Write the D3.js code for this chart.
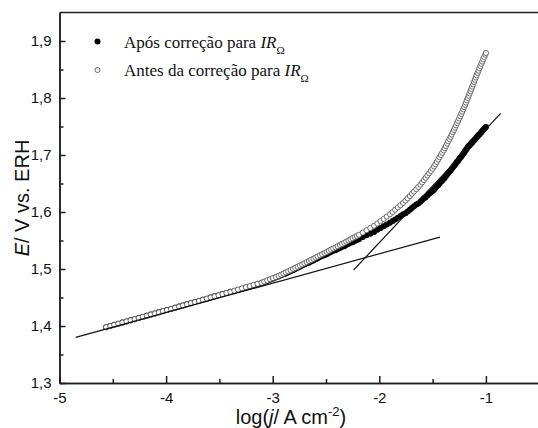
<!DOCTYPE html>
<html><head><meta charset="utf-8">
<script src="https://cdn.jsdelivr.net/npm/d3@7"></script>
<style>body{margin:0;background:#fff}svg{display:block}</style>
</head><body>
<svg id="c" width="538" height="428"></svg>
<script>
// log(j / A cm^-2), shared by both series (same current, E before/after ohmic correction)
const logJ = [
 -4.563,-4.524,-4.487,-4.448,-4.410,-4.371,-4.333,-4.295,-4.257,-4.219,
 -4.181,-4.143,-4.105,-4.068,-4.030,-3.992,-3.954,-3.916,-3.879,-3.842,
 -3.805,-3.767,-3.730,-3.692,-3.655,-3.618,-3.582,-3.545,-3.508,-3.471,
 -3.434,-3.397,-3.360,-3.325,-3.288,-3.251,-3.215,-3.179,-3.142,
 -3.105,-3.079,-3.052,-3.025,-2.999,-2.971,-2.945,-2.921,-2.899,-2.876,
 -2.854,-2.832,-2.809,-2.788,-2.766,-2.744,-2.723,-2.702,-2.681,-2.660,
 -2.640,-2.618,-2.598,-2.578,-2.556,-2.536,-2.515,-2.494,-2.473,-2.453,
 -2.432,-2.411,-2.390,-2.369,-2.350,-2.329,-2.310,-2.290,-2.270,-2.251,
 -2.230,-2.211,-2.191,
 -2.155,-2.120,-2.084,-2.049,-2.018,
 -1.989,-1.959,-1.930,-1.900,-1.875,
 -1.851,-1.826,-1.802,-1.777,-1.754,
 -1.734,-1.713,-1.694,-1.674,-1.653,
 -1.634,-1.614,-1.598,-1.581,-1.565,
 -1.549,-1.533,-1.516,-1.500,-1.486,
 -1.474,-1.461,-1.448,-1.435,-1.422,
 -1.410,-1.396,-1.386,-1.375,-1.364,
 -1.354,-1.342,-1.331,-1.321,-1.310,
 -1.299,-1.290,-1.280,-1.270,-1.260,
 -1.251,-1.241,-1.231,-1.222,-1.213,
 -1.204,-1.195,-1.187,-1.179,-1.170,
 -1.161,-1.153,-1.144,-1.136,-1.128,
 -1.120,-1.111,-1.103,-1.095,-1.087,
 -1.078,-1.069,-1.061,-1.052,-1.043,
 -1.034,-1.026,-1.016,-1.006,
 -1.000
];
// "Antes da correção para IRΩ" (open circles)
const eBefore = [
 1.398,1.400,1.402,1.404,1.406,1.408,1.410,1.412,1.414,1.416,
 1.418,1.420,1.422,1.424,1.426,1.428,1.430,1.432,1.434,1.436,
 1.438,1.440,1.442,1.444,1.446,1.448,1.450,1.452,1.454,1.456,
 1.458,1.460,1.462,1.464,1.466,1.468,1.470,1.472,1.474,
 1.476,1.478,1.480,1.482,1.484,1.486,1.488,1.490,1.492,1.494,
 1.496,1.498,1.500,1.502,1.504,1.506,1.508,1.510,1.512,1.514,
 1.516,1.518,1.520,1.522,1.524,1.526,1.528,1.530,1.532,1.534,
 1.536,1.538,1.540,1.542,1.544,1.546,1.548,1.550,1.552,1.554,
 1.556,1.558,1.560,
 1.564,1.568,1.572,1.576,1.580,
 1.584,1.588,1.592,1.596,1.600,
 1.604,1.608,1.612,1.616,1.620,
 1.624,1.628,1.632,1.636,1.640,
 1.644,1.648,1.652,1.656,1.660,
 1.664,1.668,1.672,1.676,1.680,
 1.684,1.688,1.692,1.696,1.700,
 1.704,1.708,1.712,1.716,1.720,
 1.724,1.728,1.732,1.736,1.740,
 1.744,1.748,1.752,1.756,1.760,
 1.764,1.768,1.772,1.776,1.780,
 1.784,1.788,1.792,1.796,1.800,
 1.804,1.808,1.812,1.816,1.820,
 1.824,1.828,1.832,1.836,1.840,
 1.844,1.848,1.852,1.856,1.860,
 1.864,1.868,1.872,1.876,
 1.879
];
// "Após correção para IRΩ" (filled dots)
const eAfter = [
 1.398,1.400,1.402,1.404,1.406,1.408,1.410,1.412,1.414,1.416,
 1.418,1.420,1.422,1.424,1.426,1.428,1.430,1.432,1.434,1.436,
 1.438,1.440,1.442,1.444,1.446,1.448,1.450,1.452,1.454,1.456,
 1.458,1.460,1.461,1.463,1.465,1.467,1.469,1.471,1.473,
 1.475,1.477,1.479,1.481,1.483,1.485,1.487,1.489,1.491,1.492,
 1.494,1.496,1.498,1.500,1.502,1.504,1.506,1.508,1.510,1.511,
 1.513,1.515,1.517,1.519,1.521,1.523,1.524,1.526,1.528,1.530,
 1.532,1.533,1.535,1.537,1.539,1.540,1.542,1.544,1.546,1.547,
 1.549,1.551,1.552,
 1.556,1.559,1.562,1.565,1.569,
 1.572,1.575,1.578,1.581,1.584,
 1.587,1.590,1.593,1.596,1.598,
 1.601,1.604,1.607,1.610,1.613,
 1.615,1.618,1.621,1.624,1.626,
 1.629,1.632,1.634,1.637,1.639,
 1.642,1.645,1.647,1.650,1.653,
 1.655,1.658,1.660,1.663,1.666,
 1.668,1.671,1.673,1.676,1.678,
 1.681,1.683,1.686,1.688,1.690,
 1.693,1.695,1.697,1.700,1.702,
 1.704,1.707,1.709,1.711,1.714,
 1.716,1.717,1.719,1.721,1.722,
 1.724,1.726,1.727,1.729,1.731,
 1.733,1.735,1.736,1.738,1.740,
 1.742,1.744,1.746,1.748,
 1.749
];
// Tafel fit lines (end points)
const tafelLowX = [-4.848, -1.431];
const tafelLowE = [1.380, 1.556];
const tafelHighX = [-2.242, -0.861];
const tafelHighE = [1.498, 1.773];

const xTickValues = [-5, -4, -3, -2, -1];
const xTickLabels = ["-5", "-4", "-3", "-2", "-1"];
const xMinorValues = [-4.5, -3.5, -2.5, -1.5, -0.5];
const yTickValues = [1.3, 1.4, 1.5, 1.6, 1.7, 1.8, 1.9];
const yTickLabels = ["1,3", "1,4", "1,5", "1,6", "1,7", "1,8", "1,9"];
const yMinorValues = [1.35, 1.45, 1.55, 1.65, 1.75, 1.85];
const legendLabels = ["Após correção para ", "Antes da correção para "];

const svg = d3.select("#c");
const L = 59.5, R = 539.2, T = 12.5, B = 383;
const x = d3.scaleLinear().domain([-5, -0.5]).range([L, R]);
const y = d3.scaleLinear().domain([1.3, 1.95]).range([B, T]);
const axisColor = "#1e1e1e";
const sans = "'Liberation Sans', Arial, sans-serif";
const serif = "'Liberation Serif', 'Times New Roman', serif";

// frame top/right
svg.append("line").attr("x1", L).attr("x2", R).attr("y1", T).attr("y2", T)
  .attr("stroke", axisColor).attr("stroke-width", 1.5);
svg.append("line").attr("x1", R).attr("x2", R).attr("y1", T).attr("y2", B)
  .attr("stroke", axisColor).attr("stroke-width", 1.5);

function styleAxis(g) {
  g.select(".domain").attr("stroke", axisColor).attr("stroke-width", 1.5);
  g.selectAll(".tick line").attr("stroke", axisColor).attr("stroke-width", 1.5);
  g.selectAll(".tick text").attr("fill", "#111").style("font-family", sans).style("font-size", "15px");
}

const gx = svg.append("g").attr("transform", `translate(0,${B})`)
  .call(d3.axisBottom(x).tickValues(xTickValues)
    .tickFormat((d, i) => xTickLabels[i]).tickSizeInner(-7).tickSizeOuter(0).tickPadding(9));
styleAxis(gx);
const gxm = svg.append("g").attr("transform", `translate(0,${B})`)
  .call(d3.axisBottom(x).tickValues(xMinorValues).tickFormat("").tickSizeInner(-4).tickSizeOuter(0));
styleAxis(gxm);

const gy = svg.append("g").attr("transform", `translate(${L},0)`)
  .call(d3.axisLeft(y).tickValues(yTickValues)
    .tickFormat((d, i) => yTickLabels[i]).tickSizeInner(-6).tickSizeOuter(0).tickPadding(8));
styleAxis(gy);
const gym = svg.append("g").attr("transform", `translate(${L},0)`)
  .call(d3.axisLeft(y).tickValues(yMinorValues).tickFormat("").tickSizeInner(-4).tickSizeOuter(0));
styleAxis(gym);

// data
const pts = logJ.map((lj, i) => ({ lj, eb: eBefore[i], ea: eAfter[i] }));

svg.append("g").selectAll("circle").data(pts).join("circle")
  .attr("cx", d => x(d.lj)).attr("cy", d => y(d.ea)).attr("r", 3)
  .attr("fill", "#000");

svg.append("g").selectAll("circle").data(pts).join("circle")
  .attr("cx", d => x(d.lj)).attr("cy", d => y(d.eb)).attr("r", 2.6)
  .attr("fill", "#fff").attr("stroke", "#4a4a4a").attr("stroke-width", 0.8);

const lineGen = d3.line().x(d => x(d[0])).y(d => y(d[1]));
svg.append("path").datum(tafelLowX.map((v, i) => [v, tafelLowE[i]]))
  .attr("d", lineGen).attr("fill", "none").attr("stroke", "#111").attr("stroke-width", 1.2);
svg.append("path").datum(tafelHighX.map((v, i) => [v, tafelHighE[i]]))
  .attr("d", lineGen).attr("fill", "none").attr("stroke", "#111").attr("stroke-width", 1.2);

// legend
const lg = svg.append("g");
lg.append("circle").attr("cx", 97.5).attr("cy", 41.5).attr("r", 3).attr("fill", "#000");
lg.append("circle").attr("cx", 97.5).attr("cy", 70).attr("r", 2.5).attr("fill", "#fff")
  .attr("stroke", "#4a4a4a").attr("stroke-width", 0.8);
[47.5, 76].forEach((yy, i) => {
  const t = lg.append("text").attr("x", 124).attr("y", yy)
    .style("font-family", serif).style("font-size", "17px").attr("fill", "#111");
  t.append("tspan").text(legendLabels[i]);
  t.append("tspan").style("font-style", "italic").text("IR");
  t.append("tspan").attr("dy", 6).style("font-size", "11px").text("Ω");
});

// x title
const xt = svg.append("text").attr("x", 291).attr("y", 424).attr("text-anchor", "middle")
  .style("font-family", sans).style("font-size", "20px").attr("fill", "#111");
xt.append("tspan").text("log(");
xt.append("tspan").style("font-style", "italic").text("j");
xt.append("tspan").text("/ A cm");
xt.append("tspan").attr("dy", -8).style("font-size", "13px").text("-2");
xt.append("tspan").attr("dy", 8).text(")");

// y title
const yt = svg.append("text").attr("transform", "translate(29,198) rotate(-90)")
  .attr("text-anchor", "middle").style("font-family", sans).style("font-size", "20px").attr("fill", "#111");
yt.append("tspan").style("font-style", "italic").text("E");
yt.append("tspan").text("/ V vs. ERH");
</script>
</body></html>
